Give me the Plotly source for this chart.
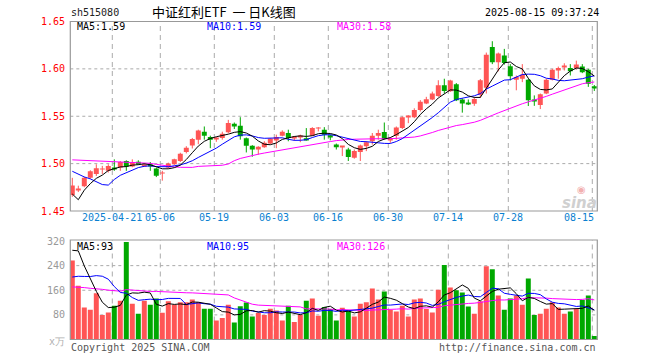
import plotly.graph_objects as go

# ---------------- data ----------------
trade_days = {
    "2025-04": [10, 11, 14, 15, 16, 17, 18, 21, 22, 23, 24, 25, 28, 29, 30],
    "2025-05": [6, 7, 8, 9, 12, 13, 14, 15, 16, 19, 20, 21, 22, 23, 26, 27, 28, 29, 30],
    "2025-06": [3, 4, 5, 6, 9, 10, 11, 12, 13, 16, 17, 18, 19, 20, 23, 24, 25, 26, 27, 30],
    "2025-07": [1, 2, 3, 4, 7, 8, 9, 10, 11, 14, 15, 16, 17, 18, 21, 22, 23, 24, 25, 28, 29, 30, 31],
    "2025-08": [1, 4, 5, 6, 7, 8, 11, 12, 13, 14, 15],
}
dates = [f"{m}-{d:02d}" for m, ds in trade_days.items() for d in ds]

open_ = [1.467, 1.4725, 1.476, 1.485, 1.489, 1.4938, 1.4924, 1.4958, 1.4958, 1.5028,
         1.4969, 1.5021, 1.4979, 1.4993, 1.4948, 1.4896, 1.4958, 1.4993, 1.5028, 1.5122,
         1.5191, 1.5253, 1.5337, 1.5281, 1.5257, 1.527, 1.533, 1.542, 1.5399, 1.5267,
         1.5188, 1.5149, 1.5174, 1.5212, 1.5243, 1.5295, 1.5323, 1.527, 1.5281, 1.5267,
         1.5295, 1.5372, 1.5358, 1.5299, 1.5201, 1.5174, 1.5149, 1.5062, 1.5122, 1.5184,
         1.5236, 1.5295, 1.5333, 1.5253, 1.5295, 1.5375, 1.549, 1.549, 1.5566, 1.5635,
         1.5677, 1.5715, 1.5826, 1.5764, 1.5837, 1.5677, 1.5635, 1.5632, 1.5728, 1.58,
         1.6232, 1.6069, 1.614, 1.6027, 1.5885, 1.5896, 1.5885, 1.5667, 1.5618, 1.574,
         1.5885, 1.599, 1.6017, 1.601, 1.601, 1.6024, 1.599, 1.5816]
high = [1.485, 1.4767, 1.486, 1.493, 1.4993, 1.4976, 1.4993, 1.5045, 1.5028, 1.5035,
        1.5045, 1.5035, 1.4997, 1.5017, 1.4958, 1.4924, 1.501, 1.5052, 1.5115, 1.5184,
        1.5271, 1.5358, 1.5392, 1.5295, 1.528, 1.5337, 1.5462, 1.5434, 1.549, 1.5276,
        1.5195, 1.5184, 1.5236, 1.5267, 1.5306, 1.5351, 1.5358, 1.529, 1.5306, 1.5375,
        1.5385, 1.5385, 1.5385, 1.5306, 1.5212, 1.5184, 1.5167, 1.5149, 1.5201, 1.5236,
        1.5323, 1.5358, 1.5434, 1.5281, 1.5392, 1.5497, 1.551, 1.5584, 1.567, 1.5705,
        1.576, 1.588, 1.5896, 1.5885, 1.585, 1.5688, 1.5677, 1.5705, 1.5893, 1.6172,
        1.6292, 1.6172, 1.6211, 1.605, 1.593, 1.605, 1.5896, 1.572, 1.574, 1.5896,
        1.6, 1.6024, 1.6059, 1.605, 1.6087, 1.605, 1.6, 1.583]
low = [1.465, 1.470, 1.475, 1.484, 1.487, 1.4889, 1.4906, 1.4924, 1.4924, 1.4924,
       1.4962, 1.499, 1.4969, 1.4924, 1.4858, 1.482, 1.4948, 1.4986, 1.5017, 1.5108,
       1.516, 1.5205, 1.5253, 1.5163, 1.523, 1.5253, 1.532, 1.5365, 1.5253, 1.5118,
       1.5073, 1.5094, 1.5167, 1.5205, 1.5163, 1.5288, 1.5236, 1.524, 1.5226, 1.5243,
       1.529, 1.534, 1.5253, 1.5246, 1.5149, 1.508, 1.5028, 1.5052, 1.5028, 1.5132,
       1.5201, 1.5253, 1.5253, 1.5219, 1.5253, 1.5365, 1.5427, 1.548, 1.555, 1.5628,
       1.567, 1.5705, 1.574, 1.5757, 1.566, 1.5538, 1.5618, 1.561, 1.5693, 1.574,
       1.605, 1.5974, 1.6045, 1.5878, 1.5774, 1.586, 1.5608, 1.561, 1.5576, 1.5733,
       1.5878, 1.5896, 1.5983, 1.593, 1.5993, 1.5955, 1.581, 1.5767]
close = [1.477, 1.4733, 1.485, 1.492, 1.495, 1.4941, 1.4976, 1.4941, 1.5017, 1.4969,
         1.5017, 1.500, 1.4986, 1.4969, 1.4872, 1.490, 1.500, 1.5045, 1.5104, 1.5167,
         1.526, 1.535, 1.5295, 1.5253, 1.526, 1.5316, 1.543, 1.5392, 1.529, 1.5188,
         1.5149, 1.5177, 1.5219, 1.5264, 1.5281, 1.5337, 1.5271, 1.528, 1.5295, 1.5253,
         1.5375, 1.5375, 1.5306, 1.5281, 1.5174, 1.5184, 1.507, 1.5132, 1.5191, 1.5226,
         1.5295, 1.5323, 1.526, 1.527, 1.5382, 1.549, 1.5503, 1.5566, 1.5653, 1.568,
         1.574, 1.5826, 1.5767, 1.5878, 1.567, 1.5635, 1.5628, 1.5682, 1.5879, 1.615,
         1.6069, 1.6161, 1.6063, 1.5921, 1.5913, 1.5937, 1.567, 1.5663, 1.5733, 1.5885,
         1.599, 1.601, 1.6024, 1.5976, 1.6045, 1.5965, 1.5844, 1.5792]
volume = [257, 175, 104, 97, 150, 80, 88, 110, 126, 317,
          116, 84, 126, 113, 133, 87, 124, 113, 121, 121,
          130, 121, 100, 100, 62, 70, 113, 55, 108, 120,
          75, 86, 80, 100, 94, 62, 110, 57, 80, 126,
          133, 77, 106, 99, 62, 103, 93, 75, 116, 121,
          166, 130, 156, 96, 91, 110, 75, 130, 133, 99,
          88, 162, 242, 169, 160, 153, 107, 84, 124, 238,
          228, 143, 97, 133, 143, 113, 198, 80, 84, 100,
          121, 104, 84, 91, 99, 128, 143, 11]

# sessions before the first visible candle (only feed the moving averages)
prior_close = [1.481, 1.492, 1.500, 1.503, 1.502, 1.505, 1.502, 1.509, 1.504, 1.509,
               1.508, 1.506, 1.516, 1.520, 1.524, 1.527, 1.525, 1.522, 1.524, 1.5214,
               1.5033, 1.5147, 1.5124, 1.5251, 1.5241, 1.5033, 1.4347, 1.4576, 1.467]
prior_volume = [180, 170, 165, 165, 166, 170, 168, 166, 165, 160,
                160, 158, 140, 128, 125, 150, 140, 145, 139, 140,
                150, 110, 100, 120, 100, 185, 349, 317, 342]

tick_dates = ["2025-04-21", "2025-05-06", "2025-05-19", "2025-06-03", "2025-06-16",
              "2025-06-30", "2025-07-14", "2025-07-28", "2025-08-15"]
tick_labels = ["2025-04-21", "05-06", "05-19", "06-03", "06-16", "06-30", "07-14", "07-28", "08-15"]
price_ticks = [1.45, 1.50, 1.55, 1.60, 1.65]
volume_ticks = [80, 160, 240, 320]
price_legend = [("MA5", "1.59"), ("MA10", "1.59"), ("MA30", "1.58")]
volume_legend = [("MA5", "93"), ("MA10", "95"), ("MA30", "126")]

# ---------------- styling ----------------
RED = "#ff5555"
GREEN = "#00a800"
MA_COLORS = {"MA5": "#000000", "MA10": "#0000ff", "MA30": "#ff00ff"}
GRID = "#aaaaaa"
BORDER = "#999999"
MONO = "DejaVu Sans Mono"
W, H = 660, 360


def fx(px):
    return px / W


def fy(py):
    return 1 - py / H


def moving_avg(prior, values, n):
    full = list(prior) + list(values)
    off = len(prior)
    return [sum(full[off + i - n + 1: off + i + 1]) / n for i in range(len(values))]


x = list(range(len(dates)))
up = [c >= o for o, c in zip(open_, close)]

fig = go.Figure()

# wicks
for flag, col in ((True, RED), (False, GREEN)):
    wx, wy = [], []
    for i in x:
        if up[i] == flag:
            wx += [i, i, None]
            wy += [low[i], high[i], None]
    fig.add_trace(go.Scatter(x=wx, y=wy, mode="lines", line=dict(color=col, width=1),
                             xaxis="x", yaxis="y", hoverinfo="skip"))

# bodies
for flag, col in ((True, RED), (False, GREEN)):
    bx, bb, bh = [], [], []
    for i in x:
        if up[i] == flag:
            bx.append(i)
            bb.append(min(open_[i], close[i]))
            bh.append(max(abs(close[i] - open_[i]), 0.0009))
    fig.add_trace(go.Bar(x=bx, y=bh, base=bb, width=0.83, marker=dict(color=col, line=dict(width=0)),
                         xaxis="x", yaxis="y", hoverinfo="skip"))

# price moving averages
for n, name in ((30, "MA30"), (10, "MA10"), (5, "MA5")):
    fig.add_trace(go.Scatter(x=x, y=moving_avg(prior_close, close, n), mode="lines",
                             line=dict(color=MA_COLORS[name], width=1), xaxis="x", yaxis="y",
                             hoverinfo="skip"))

# volume bars
fig.add_trace(go.Bar(x=x, y=volume, width=0.83,
                     marker=dict(color=[RED if u else GREEN for u in up], line=dict(width=0)),
                     xaxis="x2", yaxis="y2", hoverinfo="skip"))
for n, name in ((30, "MA30"), (10, "MA10"), (5, "MA5")):
    fig.add_trace(go.Scatter(x=x, y=moving_avg(prior_volume, volume, n), mode="lines",
                             line=dict(color=MA_COLORS[name], width=1), xaxis="x2", yaxis="y2",
                             hoverinfo="skip"))

shapes = []
annotations = []
tick_idx = [dates.index(d) for d in tick_dates]
GRID_OFF = -0.333

# vertical dashed gridlines
for ti in tick_idx:
    for yr in ("y domain", "y2 domain"):
        shapes.append(dict(type="line", xref="x", yref=yr, x0=ti + GRID_OFF, x1=ti + GRID_OFF,
                           y0=0, y1=1, line=dict(color=GRID, width=1, dash="5px,4px"), layer="below"))
# horizontal dotted gridlines
for v in price_ticks[1:-1]:
    shapes.append(dict(type="line", xref="x domain", yref="y", x0=0, x1=1, y0=v, y1=v,
                       line=dict(color=GRID, width=1, dash="dot"), layer="below"))
for v in volume_ticks[:-1]:
    shapes.append(dict(type="line", xref="x domain", yref="y2", x0=0, x1=1, y0=v, y1=v,
                       line=dict(color=GRID, width=1, dash="dot"), layer="below"))
# panel borders
for xr, yr in (("x domain", "y domain"), ("x2 domain", "y2 domain")):
    shapes.append(dict(type="rect", xref=xr, yref=yr, x0=0, x1=1, y0=0, y1=1,
                       line=dict(color=BORDER, width=1.2), fillcolor="rgba(0,0,0,0)"))

# tick labels
for v in price_ticks:
    annotations.append(dict(xref="paper", yref="y", x=fx(67), y=v, text=f"{v:.2f}", showarrow=False,
                            xanchor="right", yanchor="middle", font=dict(family=MONO, size=10, color="#ff0000")))
for v in volume_ticks:
    annotations.append(dict(xref="paper", yref="y2", x=fx(67), y=v, text=str(v), showarrow=False,
                            xanchor="right", yanchor="middle", font=dict(family=MONO, size=10, color="#999999")))
annotations.append(dict(xref="paper", yref="paper", x=fx(67), y=fy(341), text="x万", showarrow=False,
                        xanchor="right", yanchor="middle", font=dict(family=MONO, size=10, color="#b0b0b0")))
for k, (ti, lab) in enumerate(zip(tick_idx, tick_labels)):
    last = k == len(tick_idx) - 1
    annotations.append(dict(xref="x", yref="paper", x=ti + GRID_OFF + (0.6 if last else 0), y=fy(218),
                            text=lab, showarrow=False, xanchor="right" if last else "center",
                            yanchor="middle", font=dict(family=MONO, size=10, color="#0a7fd0")))

# MA legends
leg_x = [75, 205, 335]
for (name, val), lx in zip(price_legend, leg_x):
    annotations.append(dict(xref="paper", yref="paper", x=fx(lx), y=fy(26.5), text=f"{name}:{val}",
                            showarrow=False, xanchor="left", yanchor="middle",
                            font=dict(family=MONO, size=10, color=MA_COLORS[name])))
for (name, val), lx in zip(volume_legend, leg_x):
    annotations.append(dict(xref="paper", yref="paper", x=fx(lx), y=fy(246), text=f"{name}:{val}",
                            showarrow=False, xanchor="left", yanchor="middle",
                            font=dict(family=MONO, size=10, color=MA_COLORS[name])))

# header
annotations.append(dict(xref="paper", yref="paper", x=fx(69), y=fy(12.5), text="sh515080", showarrow=False,
                        xanchor="left", yanchor="middle", font=dict(family=MONO, size=10, color="#222222")))
annotations.append(dict(xref="paper", yref="paper", x=fx(150), y=fy(12), text="中证红利ETF&nbsp;&nbsp;一&nbsp;日K线图",
                        showarrow=False, xanchor="left", yanchor="middle",
                        font=dict(family="Noto Sans CJK SC", size=13, color="#000000")))
annotations.append(dict(xref="paper", yref="paper", x=fx(601), y=fy(12.5), text="2025-08-15 09:37:24",
                        showarrow=False, xanchor="right", yanchor="middle",
                        font=dict(family=MONO, size=10, color="#000000")))
# footer
annotations.append(dict(xref="paper", yref="paper", x=fx(69), y=fy(347), text="Copyright 2025 SINA.COM",
                        showarrow=False, xanchor="left", yanchor="middle",
                        font=dict(family=MONO, size=10, color="#555555")))
annotations.append(dict(xref="paper", yref="paper", x=fx(598), y=fy(347), text="http://finance.sina.com.cn",
                        showarrow=False, xanchor="right", yanchor="middle",
                        font=dict(family=MONO, size=10, color="#555555")))
# watermark
annotations.append(dict(xref="paper", yref="paper", x=fx(599), y=fy(203), text="<i><b>sina</b></i>",
                        showarrow=False, xanchor="right", yanchor="middle",
                        font=dict(family="DejaVu Sans", size=15, color="#d0d0d0")))
annotations.append(dict(xref="paper", yref="paper", x=fx(581), y=fy(189), text="◉",
                        showarrow=False, xanchor="center", yanchor="middle",
                        font=dict(family="DejaVu Sans", size=10, color="#f2b0b0")))

x_dom = [fx(70.3), fx(597.3)]
x_rng = [-0.333, 87.5]
fig.update_layout(
    width=W, height=H, margin=dict(l=0, r=0, t=0, b=0),
    paper_bgcolor="white", plot_bgcolor="white",
    showlegend=False, hovermode=False, barmode="overlay",
    xaxis=dict(domain=x_dom, range=x_rng, visible=False, fixedrange=True),
    yaxis=dict(domain=[fy(211), fy(21.5)], range=[1.45, 1.65], visible=False, fixedrange=True),
    xaxis2=dict(domain=x_dom, range=x_rng, visible=False, anchor="y2", fixedrange=True),
    yaxis2=dict(domain=[fy(339.5), fy(240)], range=[0, 323.3], visible=False, anchor="x2", fixedrange=True),
    shapes=shapes, annotations=annotations,
)

fig.write_html("out.html", config={"displayModeBar": False},
               post_script="document.body.style.margin='0';document.body.style.overflow='hidden';")
